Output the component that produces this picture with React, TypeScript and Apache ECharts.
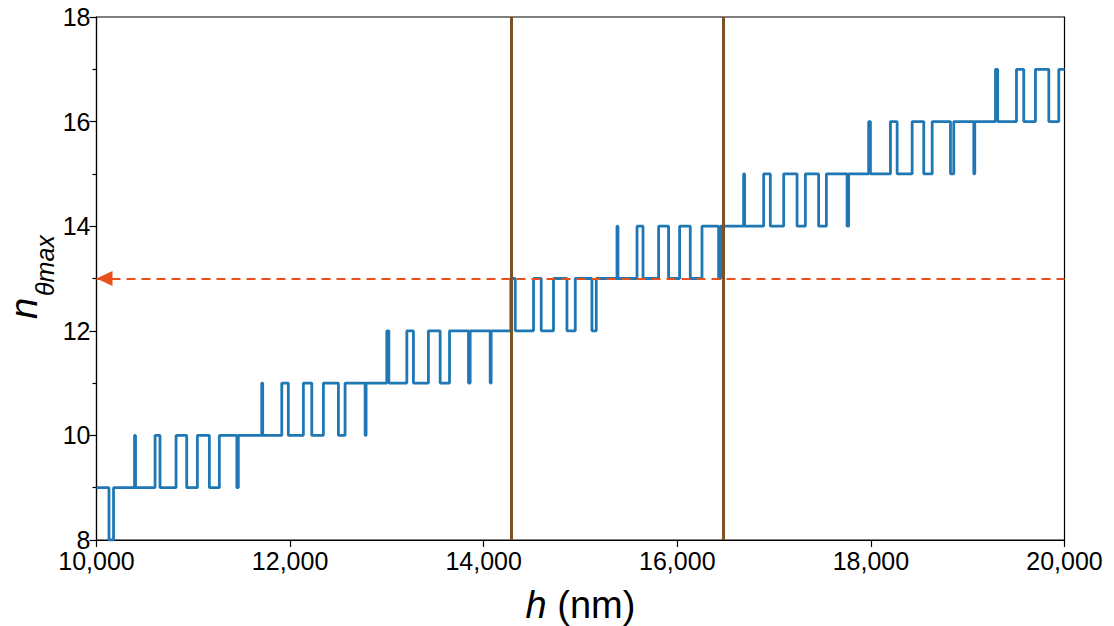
import React, { useEffect, useRef } from "react";
import * as echarts from "echarts";

// step start positions (nm) and value held from that position on
const hSteps = [
  10000, 10129, 10176, 10393, 10403, 10605, 10656, 10822, 10932, 11042,
  11166, 11269, 11450, 11465, 11707, 11717, 11914, 11982, 12137, 12224,
  12344, 12499, 12568, 12775, 12785, 12999, 13020, 13206, 13274, 13429,
  13550, 13647, 13843, 13860, 14067, 14077, 14280, 14326, 14515, 14594,
  14721, 14860, 14946, 15118, 15163, 15377, 15387, 15584, 15646, 15807,
  15910, 16024, 16134, 16255, 16427, 16447, 16685, 16695, 16892, 16961,
  17099, 17237, 17323, 17460, 17540, 17754, 17770, 17977, 17995, 18202,
  18271, 18426, 18546, 18633, 18822, 18856, 19063, 19073, 19287, 19310,
  19504, 19579, 19700, 19838, 19941, 20000,
];
const nSteps = [
  9, 8, 9, 10, 9, 10, 9, 10, 9, 10,
  9, 10, 9, 10, 11, 10, 11, 10, 11, 10,
  11, 10, 11, 10, 11, 12, 11, 12, 11, 12,
  11, 12, 11, 12, 11, 12, 13, 12, 13, 12,
  13, 12, 13, 12, 13, 14, 13, 14, 13, 14,
  13, 14, 13, 14, 13, 14, 15, 14, 15, 14,
  15, 14, 15, 14, 15, 14, 15, 16, 15, 16,
  15, 16, 15, 16, 15, 16, 15, 16, 17, 16,
  17, 16, 17, 16, 17, 17,
];
const verticalMarks = [14285, 16470];
const targetLevel = 13;
const xTicks = { min: 10000, max: 20000, interval: 2000 };
const yTicks = { min: 8, max: 18, interval: 2 };

const FONT = "'Liberation Sans', Arial, sans-serif";

export default function App() {
  const ref = useRef<HTMLDivElement>(null);
  useEffect(() => {
    document.body.style.margin = "0";
    const chart = echarts.init(ref.current!, undefined, { renderer: "svg" });
    const data = hSteps.map((h, i) => [h, nSteps[i]]);
    chart.setOption({
      animation: false,
      backgroundColor: "#fff",
      grid: {
        left: 96.5,
        right: 49.5,
        top: 17,
        bottom: 86,
        containLabel: false,
        outerBoundsMode: "none",
        show: true,
        borderColor: "#000",
        borderWidth: 1.2,
        backgroundColor: "transparent",
      },
      graphic: [
        {
          type: "group",
          x: 43,
          y: 319,
          rotation: Math.PI / 2,
          children: [
            {
              type: "text",
              x: 0,
              y: 0,
              style: {
                text: "n",
                fontSize: 38,
                fontStyle: "italic",
                fontFamily: FONT,
                fill: "#000",
                align: "left",
                verticalAlign: "bottom",
              },
            },
            {
              type: "text",
              x: 23,
              y: 14,
              style: {
                text: "θmax",
                fontSize: 25,
                fontStyle: "italic",
                fontFamily: FONT,
                fill: "#000",
                align: "left",
                verticalAlign: "bottom",
              },
            },
          ],
        },
      ],
      xAxis: {
        type: "value",
        min: xTicks.min,
        max: xTicks.max,
        interval: xTicks.interval,
        axisLine: { show: true, onZero: false, lineStyle: { color: "#000", width: 1.2 } },
        axisTick: { show: true, inside: false, length: 7, lineStyle: { color: "#000", width: 1.2 } },
        axisLabel: {
          color: "#000",
          fontSize: 25,
          fontFamily: FONT,
          margin: 8,
          formatter: (v: number) => v.toLocaleString("en-US"),
        },
        splitLine: { show: false },
        name: "{i|h} {r|(nm)}",
        nameLocation: "middle",
        nameGap: 46,
        nameTextStyle: {
          fontSize: 38,
          rich: {
            i: { fontSize: 38, fontStyle: "italic", fontFamily: FONT, color: "#000" },
            r: { fontSize: 38, fontFamily: FONT, color: "#000" },
          },
        },
      },
      yAxis: {
        type: "value",
        min: yTicks.min,
        max: yTicks.max,
        interval: yTicks.interval,
        axisLine: { show: true, onZero: false, lineStyle: { color: "#000", width: 1.2 } },
        axisTick: { show: true, inside: false, length: 7, lineStyle: { color: "#000", width: 1.2 } },
        minorTick: { show: true, splitNumber: 2, length: 4, lineStyle: { color: "#000", width: 1.2 } },
        axisLabel: { color: "#000", fontSize: 25, fontFamily: FONT, margin: 6 },
        splitLine: { show: false },
        minorSplitLine: { show: false },
      },
      series: [
        {
          type: "line",
          step: "end",
          data,
          showSymbol: false,
          symbol: "none",
          lineStyle: { color: "#1f77b4", width: 2.8 },
          z: 2,
        },
        {
          type: "line",
          data: [],
          z: 3,
          markLine: {
            silent: true,
            animation: false,
            label: { show: false },
            symbol: ["triangle", "none"],
            symbolSize: [15, 16],
            symbolOffset: [[0, 8], [0, 0]],
            itemStyle: { color: "#e8501c" },
            lineStyle: { color: "#e8501c", width: 2, type: [9, 6] },
            data: [[{ coord: [xTicks.min, targetLevel] }, { coord: [xTicks.max, targetLevel] }]],
          },
        },
        {
          type: "line",
          data: [],
          z: 4,
          markLine: {
            silent: true,
            animation: false,
            label: { show: false },
            symbol: ["none", "none"],
            lineStyle: { color: "#7a5224", width: 3, type: "solid" },
            data: verticalMarks.map((x) => ({ xAxis: x })),
          },
        },
      ],
    });
    return () => chart.dispose();
  }, []);
  return <div ref={ref} style={{ width: 1114, height: 626 }} />;
}
